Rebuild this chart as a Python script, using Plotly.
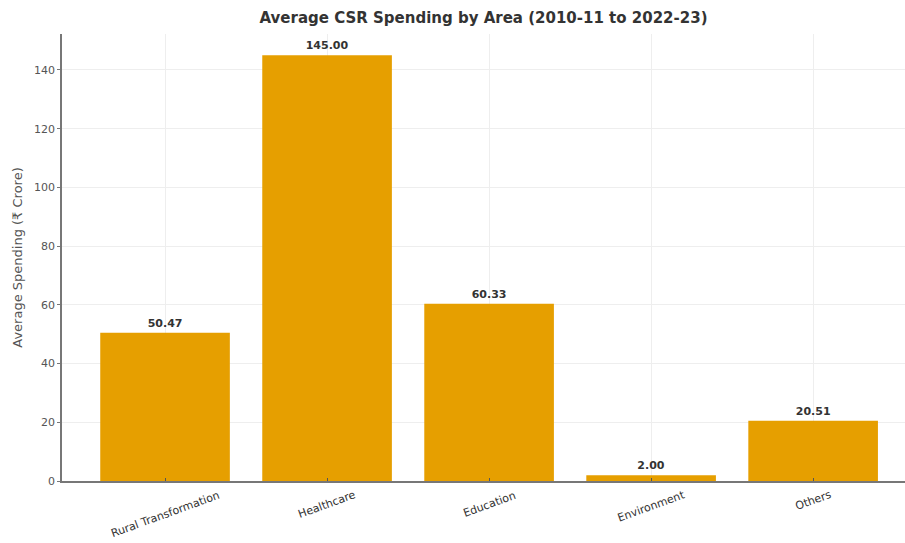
import plotly.graph_objects as go

categories = ["Rural Transformation", "Healthcare", "Education", "Environment", "Others"]
values = [50.47, 145.00, 60.33, 2.00, 20.51]
y_ticks = [0, 20, 40, 60, 80, 100, 120, 140]

xpos = list(range(len(categories)))

fig = go.Figure(go.Bar(
    x=xpos,
    y=values,
    width=0.8,
    marker=dict(color="#E69F00", line=dict(width=0)),
    text=[f"<b>{v:.2f}</b>" for v in values],
    textposition="outside",
    textfont=dict(family="DejaVu Sans", size=11, color="#333333"),
    cliponaxis=False,
))

annotations = [
    dict(x=xp, y=0, xref="x", yref="paper", text=c, showarrow=False,
         textangle=-20, xanchor="center", yanchor="top", yshift=-5,
         font=dict(family="DejaVu Sans", size=11, color="#333333"))
    for xp, c in zip(xpos, categories)
]

fig.update_layout(
    width=905, height=543,
    margin=dict(l=62, r=0, t=34, b=62),
    paper_bgcolor="white", plot_bgcolor="white",
    font=dict(family="DejaVu Sans", color="#444444"),
    title=dict(text="<b>Average CSR Spending by Area (2010-11 to 2022-23)</b>",
               x=0.5, xref="paper", xanchor="center", y=0.968, yanchor="middle",
               font=dict(size=15, color="#333333")),
    showlegend=False,
    annotations=annotations,
)
fig.update_xaxes(
    range=[-0.636, 4.567],
    tickmode="array", tickvals=xpos, showticklabels=False,
    showgrid=True, gridcolor="#eeeeee", gridwidth=1,
    showline=True, linecolor="#777777", linewidth=1.5,
    ticks="inside", ticklen=3, tickcolor="#555555",
    zeroline=False,
)
fig.update_yaxes(
    range=[0, 152.25],
    tickmode="array", tickvals=y_ticks,
    tickfont=dict(size=11, color="#555555"),
    title=dict(text="Average Spending (₹ Crore)", font=dict(size=13, color="#555555"), standoff=8),
    showgrid=True, gridcolor="#eeeeee", gridwidth=1,
    showline=True, linecolor="#777777", linewidth=1.5,
    ticks="outside", ticklen=3, tickcolor="#777777",
    zeroline=False,
)

fig.write_html("out.html")
